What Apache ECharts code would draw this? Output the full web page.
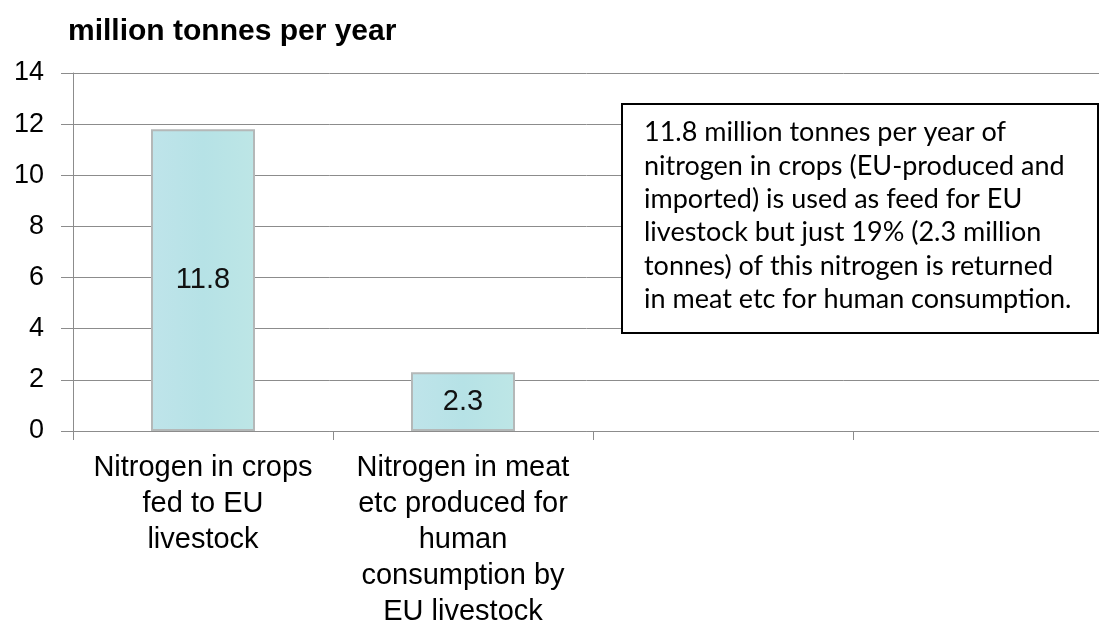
<!DOCTYPE html>
<html>
<head>
<meta charset="utf-8">
<script src="https://cdn.jsdelivr.net/npm/echarts@6/dist/echarts.min.js"></script>
<style>
  html, body { margin: 0; padding: 0; background: #fff; }
  #chart { width: 1099px; height: 623px; }
</style>
</head>
<body>
<div id="chart"></div>
<script>
// Nitrogen flows through EU livestock (million tonnes per year)
const categories = [
  'Nitrogen in crops\nfed to EU\nlivestock',
  'Nitrogen in meat\netc produced for\nhuman\nconsumption by\nEU livestock',
  '',
  ''
];
const nitrogenValues = [11.8, 2.3, null, null];
const yTicks = [0, 2, 4, 6, 8, 10, 12, 14];
const titleText = 'million tonnes per year';
const noteLines = [
  '11.8 million tonnes per year of',
  'nitrogen in crops (EU-produced and',
  'imported) is used as feed for EU',
  'livestock but just 19% (2.3 million',
  'tonnes) of this nitrogen is returned',
  'in meat etc for human consumption.'
];

const chart = echarts.init(document.getElementById('chart'), null, { renderer: 'canvas' });
const axisGray = '#8c8c8c';
const sans = 'Liberation Sans, Arial, sans-serif';

chart.setOption({
  animation: false,
  backgroundColor: '#ffffff',
  title: {
    text: titleText,
    left: 63,
    top: 12,
    textStyle: { fontFamily: sans, fontWeight: 'bold', fontSize: 30, color: '#000' }
  },
  grid: {
    left: 73, right: -14, top: 73, bottom: 192,
    containLabel: false,
    outerBoundsMode: 'none'
  },
  xAxis: {
    type: 'category',
    data: categories,
    axisLine: { show: true, lineStyle: { color: axisGray, width: 1 } },
    axisTick: { show: true, length: 9, lineStyle: { color: axisGray } },
    axisLabel: {
      interval: 0,
      margin: 19,
      color: '#000',
      fontFamily: sans,
      fontSize: 29,
      lineHeight: 36,
      align: 'center'
    },
    splitLine: { show: false }
  },
  yAxis: {
    type: 'value',
    min: yTicks[0],
    max: yTicks[yTicks.length - 1],
    interval: 2,
    axisLine: { show: true, lineStyle: { color: axisGray, width: 1 } },
    axisTick: { show: true, length: 12, lineStyle: { color: axisGray } },
    axisLabel: {
      margin: 29,
      color: '#000',
      fontFamily: sans,
      fontSize: 27
    },
    splitLine: { show: true, lineStyle: { color: axisGray, width: 1 } }
  },
  series: [{
    type: 'bar',
    data: nitrogenValues,
    barWidth: '40%',
    itemStyle: {
      color: {
        type: 'linear', x: 0, y: 0, x2: 1, y2: 0,
        colorStops: [
          { offset: 0, color: '#bfe4ea' },
          { offset: 0.5, color: '#b6e2e6' },
          { offset: 1, color: '#bde6e6' }
        ]
      },
      borderColor: '#b4b8b8',
      borderWidth: 2
    },
    label: {
      show: true,
      position: 'inside',
      color: '#111',
      fontFamily: sans,
      fontSize: 29,
      formatter: p => p.value.toFixed(1)
    }
  }],
  graphic: [{
    type: 'group',
    left: 621,
    top: 103,
    z: 100,
    children: [{
      type: 'rect',
      z: 100,
      shape: { x: 0, y: 0, width: 476, height: 229 },
      style: { fill: '#fff', stroke: '#000', lineWidth: 2 }
    }, {
      type: 'text',
      z: 101,
      x: 22,
      y: 12,
      style: {
        text: noteLines.join('\n'),
        fill: '#000',
        font: '27px Lato, "Noto Sans", sans-serif',
        lineHeight: 33.3
      }
    }]
  }]
});
</script>
</body>
</html>
